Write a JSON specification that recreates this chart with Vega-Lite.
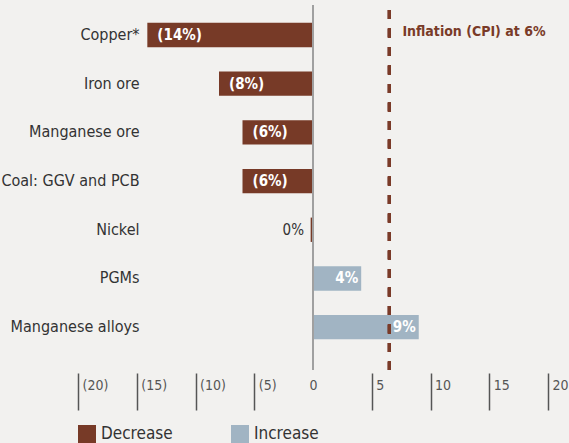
{
  "$schema": "https://vega.github.io/schema/vega-lite/v6.json",
  "width": 470,
  "height": 365,
  "autosize": {"type": "none"},
  "padding": {"left": 78, "top": 5, "right": 21, "bottom": 73},
  "background": "#f2f1ef",
  "config": {
    "view": {"stroke": null},
    "font": "DejaVu Sans Condensed",
    "text": {"font": "DejaVu Sans Condensed"}
  },
  "data": {
    "values": [
      {"item": "Copper*", "value": -14.1, "label": "(14%)", "type": "Decrease"},
      {"item": "Iron ore", "value": -8, "label": "(8%)", "type": "Decrease"},
      {"item": "Manganese ore", "value": -6, "label": "(6%)", "type": "Decrease"},
      {"item": "Coal: GGV and PCB", "value": -6, "label": "(6%)", "type": "Decrease"},
      {"item": "Nickel", "value": -0.2, "label": "0%", "type": "Decrease"},
      {"item": "PGMs", "value": 4.1, "label": "4%", "type": "Increase"},
      {"item": "Manganese alloys", "value": 9, "label": "9%", "type": "Increase"}
    ]
  },
  "encoding": {
    "y": {
      "field": "item",
      "type": "nominal",
      "sort": null,
      "title": null,
      "scale": {"paddingInner": 0.5, "paddingOuter": 0.4975, "align": 0.367},
      "axis": {
        "offset": -61,
        "ticks": false,
        "domain": false,
        "labelPadding": 0,
        "labelFontSize": 16,
        "labelColor": "#333333",
        "labelFont": "DejaVu Sans Condensed"
      }
    }
  },
  "layer": [
    {
      "mark": {"type": "bar"},
      "encoding": {
        "x": {
          "field": "value",
          "type": "quantitative",
          "title": null,
          "scale": {"domain": [-20, 20], "nice": false, "zero": false},
          "axis": {
            "values": [-20, -15, -10, -5, 0, 5, 10, 15, 20],
            "domain": false,
            "grid": false,
            "offset": 3,
            "tickSize": 37,
            "tickWidth": 1.5,
            "tickColor": {"condition": {"test": "datum.value == 0", "value": "transparent"}, "value": "#555555"},
            "labelAlign": {"condition": {"test": "datum.value == 0", "value": "center"}, "value": "left"},
            "labelOffset": {"condition": {"test": "datum.value == 0", "value": 0}, "value": 4},
            "labelBaseline": "top",
            "labelPadding": -32,
            "labelFontSize": 14,
            "labelColor": "#555555",
            "labelFont": "DejaVu Sans Condensed",
            "labelExpr": "datum.value < 0 ? '(' + (-datum.value) + ')' : '' + datum.value"
          }
        },
        "x2": {"datum": 0},
        "color": {
          "field": "type",
          "type": "nominal",
          "title": null,
          "scale": {"domain": ["Decrease", "Increase"], "range": ["#773a27", "#a1b4c3"]},
          "legend": {
            "orient": "none",
            "legendX": 0,
            "legendY": 420,
            "direction": "horizontal",
            "symbolType": "square",
            "symbolSize": 324,
            "symbolStrokeWidth": 0,
            "labelFontSize": 17,
            "labelColor": "#333333",
            "labelFont": "DejaVu Sans Condensed",
            "labelOffset": 5,
            "columnPadding": 58
          }
        }
      }
    },
    {
      "mark": {"type": "rule", "color": "#a0a0a0", "strokeWidth": 2},
      "encoding": {"x": {"datum": 0}, "y": null}
    },
    {
      "mark": {"type": "rule", "color": "#7a3b28", "strokeWidth": 3, "strokeDash": [9, 9.5], "strokeDashOffset": 13.5},
      "encoding": {"x": {"datum": 6.5}, "y": null}
    },
    {
      "transform": [{"filter": "datum.value < -1"}],
      "mark": {"type": "text", "align": "left", "dx": 10, "color": "white", "fontWeight": "bold", "fontSize": 15},
      "encoding": {"x": {"field": "value", "type": "quantitative"}, "text": {"field": "label"}}
    },
    {
      "transform": [{"filter": "datum.value > 1"}],
      "mark": {"type": "text", "align": "right", "dx": -3, "color": "white", "fontWeight": "bold", "fontSize": 15},
      "encoding": {"x": {"field": "value", "type": "quantitative"}, "text": {"field": "label"}}
    },
    {
      "transform": [{"filter": "datum.value >= -1 && datum.value <= 1"}],
      "mark": {"type": "text", "align": "right", "dx": -9, "color": "#333333", "fontSize": 15},
      "encoding": {"x": {"datum": 0}, "text": {"field": "label"}}
    },
    {
      "data": {"values": [{"t": "Inflation (CPI) at 6%", "pos": 6.5, "row": "Copper*"}]},
      "mark": {"type": "text", "align": "left", "dx": 13, "dy": -3, "color": "#7a3b28", "fontWeight": "bold", "fontSize": 14},
      "encoding": {"x": {"field": "pos", "type": "quantitative"}, "y": {"field": "row", "type": "nominal"}, "text": {"field": "t"}}
    }
  ]
}
